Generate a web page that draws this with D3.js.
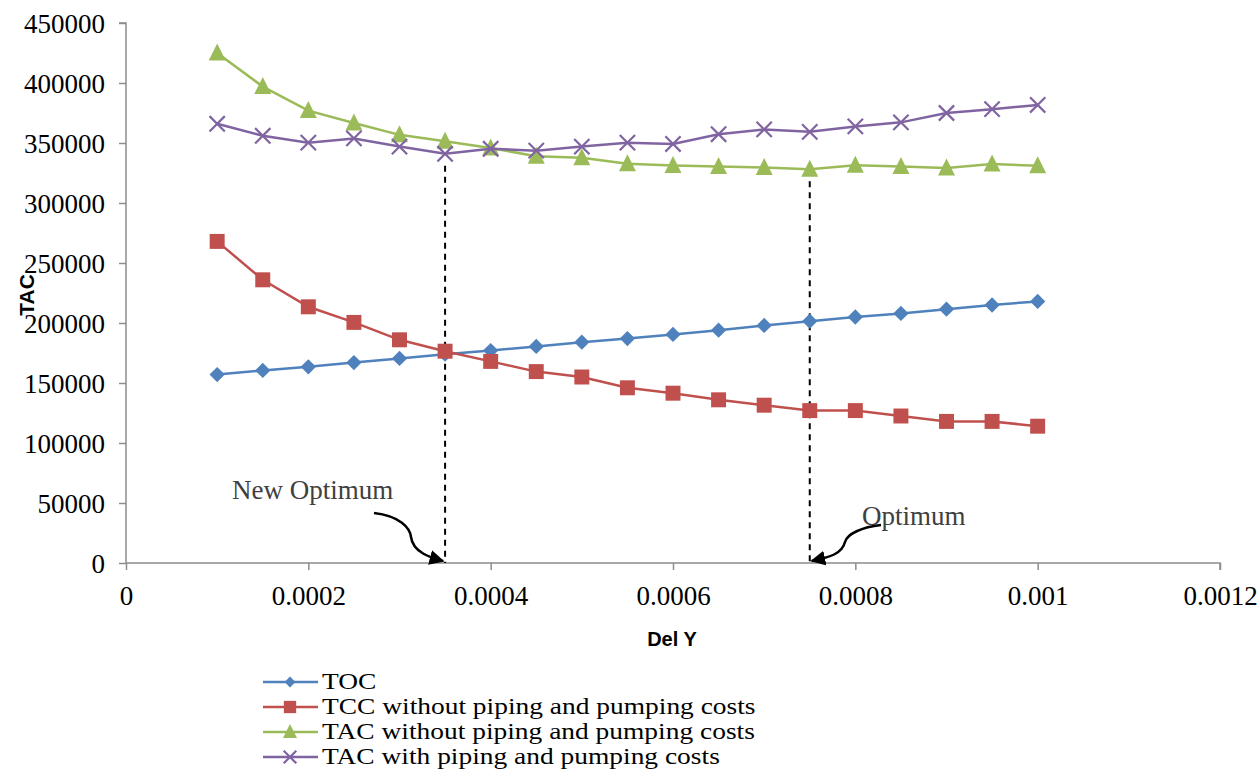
<!DOCTYPE html>
<html><head><meta charset="utf-8">
<script src="https://cdn.jsdelivr.net/npm/d3@7"></script>
<style>body{margin:0;background:#fff}svg{display:block}</style>
</head><body>
<svg id="c" width="1260" height="776"></svg>
<script>
const delY = [0.0001,0.00015,0.0002,0.00025,0.0003,0.00035,0.0004,0.00045,0.0005,0.00055,0.0006,0.00065,0.0007,0.00075,0.0008,0.00085,0.0009,0.00095,0.001];
const toc = [157000,160500,163500,167000,170500,174000,177000,180500,184000,187000,190500,194000,198000,201500,205000,208000,211500,215000,218000];
const tccWithout = [268000,236000,213500,200500,186000,176500,168000,159500,155000,146000,141500,136000,131500,127000,127000,122500,118000,118000,114000];
const tacWithout = [425000,397000,377000,366700,356800,351500,345800,339000,337800,332700,331200,330500,329500,328200,331400,330400,329200,332600,331000];
const tacWith = [366000,356000,350300,353800,347000,341000,345200,343600,347000,350300,349200,357300,361300,359300,363800,367200,375000,378200,381700];
const xTicks = [0,0.0002,0.0004,0.0006,0.0008,0.001,0.0012];
const yTicks = [0,50000,100000,150000,200000,250000,300000,350000,400000,450000];
const seriesNames = ["TOC","TCC without piping and pumping costs","TAC without piping and pumping costs","TAC with piping and pumping costs"];
const seriesColors = ["#4F81BD","#C0504D","#9BBB59","#8064A2"];
const seriesShapes = ["diamond","square","triangle","x"];
const optima = [{x:0.00035, y:341000, label:"New Optimum"},{x:0.00075, y:328200, label:"Optimum"}];

const svg = d3.select("#c");
const x = d3.scaleLinear().domain([0,0.0012]).range([126,1220]);
const y = d3.scaleLinear().domain([0,450000]).range([563,23]);
const serif = "'Liberation Serif','Times New Roman',serif";
const sans = "'Liberation Sans',Arial,sans-serif";

// axes
const yAxis = svg.append("g").attr("transform","translate(126,0)")
  .call(d3.axisLeft(y).tickValues(yTicks).tickSize(7).tickPadding(14).tickFormat(d3.format("d")));
const xAxis = svg.append("g").attr("transform","translate(0,563)")
  .call(d3.axisBottom(x).tickValues(xTicks).tickSize(7).tickPadding(16).tickFormat(d=>d===0?"0":String(+d.toFixed(4))));
[yAxis,xAxis].forEach(g=>{
  g.attr("font-family",serif).attr("font-size",27);
  g.selectAll("path,line").attr("stroke","#8c8c8c").attr("stroke-width",1.5);
  g.selectAll("text").style("font-family",serif).style("font-size","27px").attr("fill","#000");
});
yAxis.selectAll("text").attr("dy","0.34em");
yAxis.select(".domain").attr("d","M0,563V23H-7");
xAxis.select(".domain").attr("d","M126,0H1220V7");

svg.append("text").attr("transform","translate(34,295) rotate(-90)").attr("text-anchor","middle")
  .style("font-family",sans).attr("font-weight","bold").style("font-size","21px").text("TAC");
svg.append("text").attr("x",672).attr("y",646).attr("text-anchor","middle")
  .style("font-family",sans).attr("font-weight","bold").style("font-size","20px").text("Del Y");

// dashed optimum lines
optima.forEach(o=>{
  svg.append("line").attr("x1",x(o.x)).attr("x2",x(o.x)).attr("y1",y(o.y)+12).attr("y2",y(0))
    .attr("stroke","#000").attr("stroke-width",2).attr("stroke-dasharray","6,5");
});

function marker(g, shape, color, s){
  if(shape==="x"){
    const h=s*0.45;
    g.append("path").attr("d",`M${-h},${-h}L${h},${h}M${-h},${h}L${h},${-h}`).attr("stroke",color).attr("stroke-width",2.2).attr("fill","none");
  } else if(shape==="diamond"){
    const h=s*0.45;
    g.append("path").attr("d",`M0,${-h}L${h},0L0,${h}L${-h},0Z`).attr("fill",color);
  } else if(shape==="square"){
    const h=s*0.44;
    g.append("rect").attr("x",-h).attr("y",-h).attr("width",2*h).attr("height",2*h).attr("fill",color);
  } else {
    const h=s*0.5;
    g.append("path").attr("d",`M0,${-h-1}L${h},${h-1}L${-h},${h-1}Z`).attr("fill",color);
  }
}

const allSeries=[toc,tccWithout,tacWithout,tacWith];
const line = d3.line().x((d,i)=>x(delY[i])).y(d=>y(d));
allSeries.forEach((s,k)=>{
  svg.append("path").datum(s).attr("d",line).attr("fill","none").attr("stroke",seriesColors[k]).attr("stroke-width",2.5);
  s.forEach((v,i)=>{
    const g=svg.append("g").attr("transform",`translate(${x(delY[i])},${y(v)})`);
    marker(g,seriesShapes[k],seriesColors[k],17);
  });
});

// annotations
svg.append("text").attr("x",232).attr("y",499).style("font-family",serif).style("font-size","27px").attr("fill","#404040").text(optima[0].label);
svg.append("text").attr("x",862).attr("y",525).style("font-family",serif).style("font-size","27px").attr("fill","#404040").text(optima[1].label);
svg.append("defs").append("marker").attr("id","ah").attr("viewBox","0 0 10 10").attr("refX",9).attr("refY",5)
  .attr("markerWidth",6).attr("markerHeight",6).attr("orient","auto-start-reverse").attr("markerUnits","strokeWidth")
  .append("path").attr("d","M0,0L10,5L0,10z").attr("fill","#000");
const ax0=x(optima[0].x), ax1=x(optima[1].x), ay=y(0);
svg.append("path").attr("d",`M374,513 C400,516 410,528 411,537 C413,553 432,558 ${ax0-2},${ay-2}`)
  .attr("fill","none").attr("stroke","#000").attr("stroke-width",2.5).attr("marker-end","url(#ah)");
svg.append("path").attr("d",`M881,525 C862,527 847,534 845,542 C842,554 830,557 ${ax1+2},${ay-2}`)
  .attr("fill","none").attr("stroke","#000").attr("stroke-width",2.5).attr("marker-end","url(#ah)");

// legend
const leg = svg.append("g");
seriesNames.forEach((n,k)=>{
  const yy = 682 + k*25;
  leg.append("line").attr("x1",263).attr("x2",318).attr("y1",yy).attr("y2",yy).attr("stroke",seriesColors[k]).attr("stroke-width",2.5);
  const g=leg.append("g").attr("transform",`translate(290,${yy})`);
  marker(g,seriesShapes[k],seriesColors[k],k===0?12:14);
  leg.append("text").attr("transform",`translate(322,${yy+6.5}) scale(1.22,1)`)
    .style("font-family",serif).style("font-size","22.5px").attr("fill","#000").text(n);
});
</script>
</body></html>
